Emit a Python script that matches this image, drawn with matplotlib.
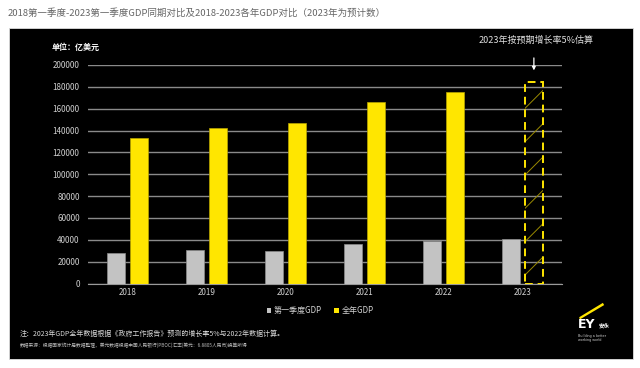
import numpy as np
import matplotlib.pyplot as plt
from matplotlib.patches import Rectangle, Polygon, Patch

plt.rcParams['font.family'] = ['Noto Sans CJK SC', 'DejaVu Sans']

# 数据（亿美元）
years = ['2018', '2019', '2020', '2021', '2022', '2023']
q1_gdp = [27800, 30500, 29800, 35800, 38800, 41000]
full_gdp = [132900, 142700, 147200, 166400, 175200]
est_2023 = 184200
yticks = [0, 20000, 40000, 60000, 80000, 100000, 120000, 140000, 160000, 180000, 200000]

grey = '#c3c3c3'
yellow = '#ffe600'

fig = plt.figure(figsize=(6.4, 3.68), dpi=100)
fig.patch.set_facecolor('white')

# 黑色背景面板
fig.patches.append(Rectangle((0.014, 0.0245), 0.975, 0.8995, transform=fig.transFigure,
                             facecolor='black', edgecolor='#dddddd', linewidth=0.6, zorder=-5))

fig.text(0.012, 0.965, '2018第一季度-2023第一季度GDP同期对比及2018-2023各年GDP对比（2023年为预计数）',
         color='#666666', fontsize=6.8, style='italic', va='center', ha='left')

ax = fig.add_axes([0.1375, 0.2296, 0.7405, 0.5938])
ax.set_facecolor('black')
x = np.arange(len(years))
w = 0.22
ax.bar(x - 0.145, q1_gdp, w, color=grey, edgecolor='#8c8c8c', linewidth=0.5, zorder=3)
ax.bar(x[:5] + 0.145, full_gdp, w, color=yellow, edgecolor='#b8a400', linewidth=0.5, zorder=3)
# 2023 预计（虚线框）
plt.rcParams['hatch.linewidth'] = 0.7
ax.bar(x[5] + 0.145, est_2023, w, color='none', edgecolor='#9a8a00', hatch='/', linewidth=0, zorder=3)
ax.bar(x[5] + 0.145, est_2023, w, color='none', edgecolor=yellow, linewidth=1.4,
       linestyle=(0, (4, 2.5)), zorder=4)

ax.set_xlim(-0.5, 5.5)
ax.set_ylim(0, 200000)
ax.set_yticks(yticks)
ax.set_yticklabels([str(v) for v in yticks])
ax.set_xticks(x)
ax.set_xticklabels(years)
ax.grid(axis='y', color='#8a8a8a', linewidth=1.0, zorder=0)
ax.set_axisbelow(True)
ax.tick_params(axis='both', colors='#d0d0d0', labelsize=5.8, length=0)
ax.tick_params(axis='y', pad=6)
ax.tick_params(axis='x', pad=3)
for s in ax.spines.values():
    s.set_visible(False)
ax.spines['bottom'].set_visible(True)
ax.spines['bottom'].set_color('#9a9a9a')

fig.text(0.081, 0.872, '单位：亿美元', color='white', fontsize=5.8, fontweight='bold', va='center')

# 注释与箭头
fig.text(0.838, 0.89, '2023年按预期增长率5%估算', color='#e0e0e0', fontsize=6.5, ha='center', va='center')
ax.annotate('', xy=(x[5] + 0.145, 192500), xytext=(x[5] + 0.145, 209000),
            arrowprops=dict(arrowstyle='-|>', color='white', lw=0.9, mutation_scale=5),
            annotation_clip=False)

# 图例
handles = [Patch(facecolor=grey, label='第一季度GDP'), Patch(facecolor=yellow, label='全年GDP')]
fig.legend(handles=handles, loc='center', bbox_to_anchor=(0.5, 0.155), ncol=2, frameon=False,
           fontsize=5.8, labelcolor='#d0d0d0', handlelength=0.6, handleheight=0.6,
           handletextpad=0.3, columnspacing=1.5)

fig.text(0.031, 0.092, '注：2023年GDP全年数据根据《政府工作报告》预测的增长率5%与2022年数据计算。',
         color='#d8d8d8', fontsize=5.0, style='italic', va='center')
fig.text(0.031, 0.062, '数据来源：根据国家统计局数据整理，美元数据根据中国人民银行(PBOC)汇率(美元：6.8805人民币)换算所得',
         color='#bbbbbb', fontsize=3.4, style='italic', va='center')

# EY 标志
fig.patches.append(Polygon([(0.905, 0.138), (0.942, 0.177), (0.944, 0.171), (0.906, 0.132)],
                           closed=True, transform=fig.transFigure, facecolor=yellow, edgecolor='none'))
fig.text(0.903, 0.118, 'EY', color='white', fontsize=9, fontweight='bold', va='center', family='DejaVu Sans')
fig.text(0.935, 0.112, '安永', color='white', fontsize=4, fontweight='bold', va='center')
fig.text(0.903, 0.082, 'Building a better\nworking world', color='#cccccc', fontsize=2.4,
         va='center', linespacing=1.1, family='DejaVu Sans')

fig.savefig('out.png', dpi=100, facecolor=fig.get_facecolor())
